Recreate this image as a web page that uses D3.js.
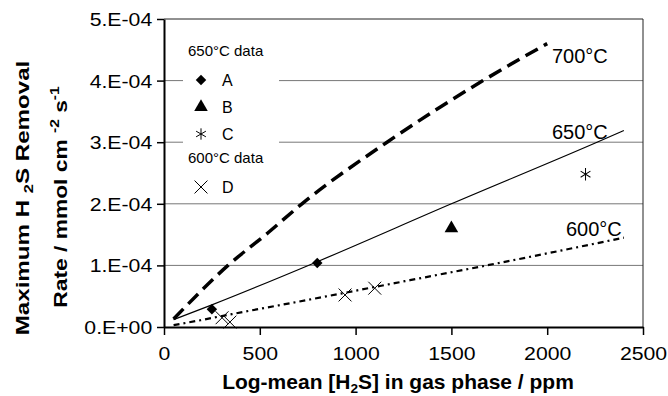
<!DOCTYPE html>
<html>
<head>
<meta charset="utf-8">
<script src="https://cdn.jsdelivr.net/npm/d3@7"></script>
<style>
  body { margin: 0; background: #fff; }
  svg { display: block; font-family: "Liberation Sans", Arial, sans-serif; }
</style>
</head>
<body>
<svg id="chart" width="668" height="396"></svg>
<script>
// data (rate in mmol cm-2 s-1, x in ppm)
const yTicks = [0, 1e-4, 2e-4, 3e-4, 4e-4, 5e-4];
const yTickLabels = ["0.E+00", "1.E-04", "2.E-04", "3.E-04", "4.E-04", "5.E-04"];
const xTicks = [0, 500, 1000, 1500, 2000, 2500];

// model curves
const ppm700 = [50, 334, 543, 720, 1164, 1665, 2000];
const rate700 = [0.13e-4, 1.0e-4, 1.53e-4, 2.0e-4, 3.0e-4, 4.0e-4, 4.6e-4];
const ppm650 = [50, 250, 800, 1500, 2260, 2400];
const rate650 = [0.12e-4, 0.36e-4, 1.06e-4, 2.0e-4, 3.0e-4, 3.19e-4];
const ppm600 = [50, 190, 355, 700, 1284, 1685, 2400];
const rate600 = [0.03e-4, 0.11e-4, 0.21e-4, 0.41e-4, 0.76e-4, 1.0e-4, 1.45e-4];

// measured points
const ppmA = [250, 800];
const rateA = [0.29e-4, 1.04e-4];
const ppmB = [1500];
const rateB = [1.6e-4];
const ppmC = [2200];
const rateC = [2.48e-4];
const ppmD = [303, 344, 945, 1100];
const rateD = [0.15e-4, 0.08e-4, 0.52e-4, 0.63e-4];

const svg = d3.select('#chart');
const margin = {left: 164, right: 25, top: 19, bottom: 69};
const W = 668, H = 396;

const x = d3.scaleLinear().domain([0, 2500]).range([margin.left, W - margin.right]);
const y = d3.scaleLinear().domain([0, 5e-4]).range([H - margin.bottom, margin.top]);

const zip = (xs, ys) => xs.map((v, i) => [v, ys[i]]);

// gridlines
svg.append('g')
    .selectAll('line')
    .data(yTicks.slice(1, -1))
    .enter().append('line')
    .attr('x1', x(0)).attr('x2', x(2500))
    .attr('y1', d => y(d)).attr('y2', d => y(d))
    .attr('stroke', '#777').attr('stroke-width', 1);

// frame top/right
svg.append('path')
    .attr('d', `M${x(0)},${y(5e-4)}H${x(2500)}V${y(0)}`)
    .attr('fill', 'none').attr('stroke', '#222').attr('stroke-width', 1);

// legend background hides gridlines
svg.append('rect')
    .attr('x', 183).attr('y', 32).attr('width', 96).attr('height', 168)
    .attr('fill', '#fff');

// axes
const xAxis = svg.append('g')
    .attr('transform', `translate(0,${y(0)})`)
    .call(d3.axisBottom(x).tickValues(xTicks).tickFormat(d3.format('d')).tickSize(8).tickSizeOuter(0));
const yAxis = svg.append('g')
    .attr('transform', `translate(${x(0)},0)`)
    .call(d3.axisLeft(y).tickValues(yTicks).tickFormat((d, i) => yTickLabels[i]).tickSize(7).tickSizeOuter(0));

[xAxis, yAxis].forEach(g => {
    g.select('.domain').attr('stroke', '#000').attr('stroke-width', 2);
    g.selectAll('.tick line').attr('stroke', '#000').attr('stroke-width', 1.5);
    g.selectAll('.tick text')
        .attr('fill', '#000')
        .style('font-size', '18px')
        .attr('transform', 'scale(1.18,1)');
});
xAxis.selectAll('.tick text').attr('dy', '1.25em');
yAxis.selectAll('.tick text').attr('x', -10).attr('dy', '0.36em');

// curves
const line = d3.line().x(d => x(d[0])).y(d => y(d[1])).curve(d3.curveMonotoneX);

svg.append('path')
    .attr('d', line(zip(ppm700, rate700)))
    .attr('fill', 'none').attr('stroke', '#000').attr('stroke-width', 3.5)
    .attr('stroke-dasharray', '14,7');
svg.append('path')
    .attr('d', line(zip(ppm650, rate650)))
    .attr('fill', 'none').attr('stroke', '#000').attr('stroke-width', 1.2);
svg.append('path')
    .attr('d', line(zip(ppm600, rate600)))
    .attr('fill', 'none').attr('stroke', '#000').attr('stroke-width', 2.2)
    .attr('stroke-dasharray', '6,4,2,4');

// markers
const diamond = d3.symbol().type(d3.symbolDiamond2).size(70);
const triangle = d3.symbol().type(d3.symbolTriangle).size(80);
const asterisk = d3.symbol().type(d3.symbolAsterisk).size(90);
const cross = d3.symbol().type(d3.symbolTimes).size(110);

svg.append('g').selectAll('path').data(zip(ppmA, rateA)).enter().append('path')
    .attr('transform', d => `translate(${x(d[0])},${y(d[1])})`)
    .attr('d', diamond).attr('fill', '#000');
svg.append('g').selectAll('path').data(zip(ppmB, rateB)).enter().append('path')
    .attr('transform', d => `translate(${x(d[0])},${y(d[1])})`)
    .attr('d', triangle).attr('fill', '#000');
svg.append('g').selectAll('path').data(zip(ppmC, rateC)).enter().append('path')
    .attr('transform', d => `translate(${x(d[0])},${y(d[1])}) scale(1,1.1)`)
    .attr('d', asterisk).attr('fill', 'none').attr('stroke', '#000').attr('stroke-width', 1);
svg.append('g').selectAll('path').data(zip(ppmD, rateD)).enter().append('path')
    .attr('transform', d => `translate(${x(d[0])},${y(d[1])})`)
    .attr('d', cross).attr('fill', 'none').attr('stroke', '#000').attr('stroke-width', 1);

// curve labels
const curveLabels = [
    {t: '700°C', x: 552, y: 63},
    {t: '650°C', x: 552, y: 139},
    {t: '600°C', x: 566, y: 236}
];
svg.append('g').selectAll('text').data(curveLabels).enter().append('text')
    .attr('x', d => d.x).attr('y', d => d.y)
    .style('font-size', '20px').attr('fill', '#000')
    .text(d => d.t);

// legend
const legend = svg.append('g').style('font-size', '15px').attr('fill', '#000');
legend.append('text').attr('x', 188).attr('y', 56).text('650°C data');
legend.append('text').attr('x', 188).attr('y', 163).text('600°C data');
const legItems = [
    {sym: diamond, fill: true, label: 'A', y: 80},
    {sym: triangle, fill: true, label: 'B', y: 107},
    {sym: asterisk, fill: false, label: 'C', y: 134},
    {sym: cross, fill: false, label: 'D', y: 187}
];
legItems.forEach(it => {
    legend.append('path')
        .attr('transform', `translate(201,${it.y})`)
        .attr('d', it.sym)
        .attr('fill', it.fill ? '#000' : 'none')
        .attr('stroke', it.fill ? 'none' : '#000');
    legend.append('text').attr('x', 222).attr('y', it.y).attr('dy', '0.36em')
        .style('font-size', '16px').text(it.label);
});

// axis titles
const xt = svg.append('text')
    .attr('transform', 'translate(398,389) scale(1.05,1)')
    .attr('text-anchor', 'middle')
    .style('font-size', '20px').style('font-weight', 'bold');
xt.append('tspan').text('Log-mean [H');
xt.append('tspan').attr('dy', 4).style('font-size', '13px').text('2');
xt.append('tspan').attr('dy', -4).text('S] in gas phase / ppm');

const yt1 = svg.append('text')
    .attr('transform', 'translate(29,198) rotate(-90) scale(1.27,1)')
    .attr('text-anchor', 'middle')
    .style('font-size', '19px').style('font-weight', 'bold');
yt1.append('tspan').text('Maximum H ');
yt1.append('tspan').attr('dy', 4).style('font-size', '13px').text('2');
yt1.append('tspan').attr('dy', -4).text('S Removal');

const yt2 = svg.append('text')
    .attr('transform', 'translate(67,197) rotate(-90) scale(1.2,1)')
    .attr('text-anchor', 'middle')
    .style('font-size', '19px').style('font-weight', 'bold');
yt2.append('tspan').text('Rate / mmol cm ');
yt2.append('tspan').attr('dy', -8).style('font-size', '13px').text('-2');
yt2.append('tspan').attr('dy', 8).text(' s');
yt2.append('tspan').attr('dy', -8).style('font-size', '13px').text('-1');
</script>
</body>
</html>
